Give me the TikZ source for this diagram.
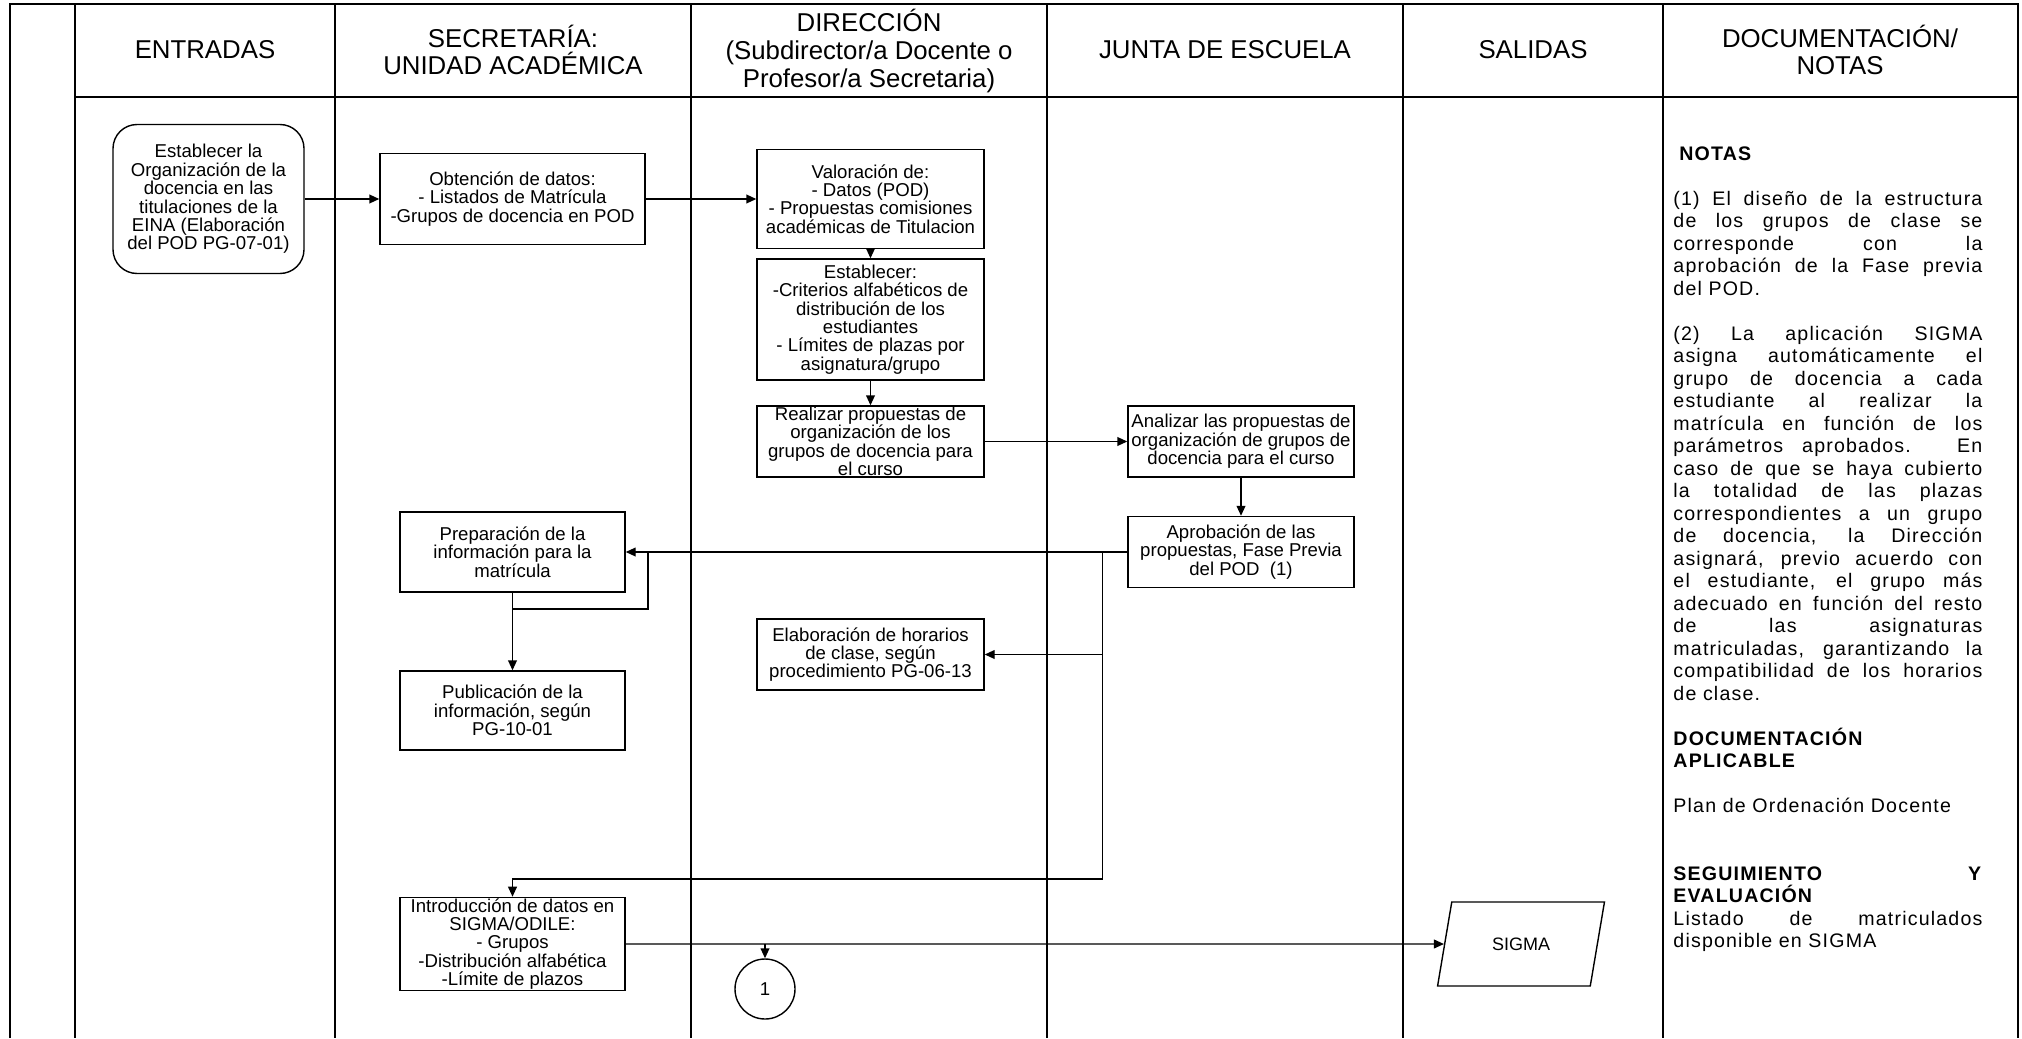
\documentclass[tikz,border=0pt]{standalone}
\usepackage{fontspec}
\setmainfont{Liberation Sans}
\newfontfamily\notesfont[LetterSpace=6]{Liberation Sans}
\usetikzlibrary{arrows.meta,shapes.geometric}

\begin{document}
\begin{tikzpicture}[
  x=0.5pt, y=-0.5pt,
  >={Triangle[length=5pt,width=4.4pt]},
  lane/.style={line width=1pt, draw=black},
  head/.style={align=center, inner sep=0pt,
               font=\fontsize{12.9}{13.9}\selectfont},
  task/.style={draw, line width=0.7pt, align=center, inner sep=0.5pt,
               font=\fontsize{9.3}{9.2}\selectfont},
  start/.style={task, rounded corners=12pt},
  link/.style={circle, draw, line width=0.7pt, minimum size=30pt,
               inner sep=0pt, font=\fontsize{9.3}{9.2}\selectfont},
  data/.style={trapezium, trapezium left angle=65, trapezium right angle=115,
               trapezium stretches=true, draw, line width=0.7pt,
               minimum width=83.5pt, minimum height=42pt, inner sep=0pt,
               font=\fontsize{9}{9.2}\selectfont},
  notes/.style={align=justify, text width=154.5pt, inner sep=0pt,
                font=\notesfont\fontsize{9.8}{11.25}\selectfont},
  flow/.style={->, line width=0.7pt},
  wire/.style={line width=0.7pt},
]
\useasboundingbox (0,0) rectangle (2022,1038);

\draw[lane] (10,1038) -- (10,4) -- (2018,4) -- (2018,1038);
\draw[lane] (75,97) -- (2018,97);
\foreach \xl in {75,335,691,1047,1403,1663}
  \draw[lane] (\xl,4) -- (\xl,1038);

\node[head] (hent) at (205,50) {ENTRADAS};
\node[head] (hsec) at (513,50) {SECRETARÍA:\\UNIDAD ACADÉMICA};
\node[head] (hdir) at (869,51) {DIRECCIÓN\\(Subdirector/a Docente o\\Profesor/a Secretaria)};
\node[head] (hjun) at (1225,50) {JUNTA DE ESCUELA};
\node[head] (hsal) at (1533,50) {SALIDAS};
\node[head] (hdoc) at (1840,50) {DOCUMENTACIÓN/\\NOTAS};

\node[start, minimum width=95.5pt, minimum height=74.5pt] (ini) at (208.5,199)
  {Establecer la\\Organización de la\\docencia en las\\titulaciones de la\\EINA (Elaboración\\del POD PG-07-01)};
\node[task, minimum width=132.5pt, minimum height=45.5pt] (obt) at (512.5,199)
  {Obtención de datos:\\- Listados de Matrícula\\-Grupos de docencia en POD};
\node[task, minimum width=113.5pt, minimum height=49.5pt] (val) at (870.5,199)
  {Valoración de:\\- Datos (POD)\\- Propuestas comisiones\\académicas de Titulacion};
\node[task, minimum width=113.5pt, minimum height=60.5pt] (est) at (870.5,319.5)
  {Establecer:\\-Criterios alfabéticos de\\distribución de los\\estudiantes\\- Límites de plazas por\\asignatura/grupo};
\node[task, minimum width=113.5pt, minimum height=35.5pt] (rea) at (870.5,441.5)
  {Realizar propuestas de\\organización de los\\grupos de docencia para\\el curso};
\node[task, minimum width=113pt, minimum height=35.5pt] (ana) at (1241,441.5)
  {Analizar las propuestas de\\organización de grupos de\\docencia para el curso};
\node[task, minimum width=113pt, minimum height=35.5pt] (apr) at (1241,552)
  {Aprobación de las\\propuestas, Fase Previa\\del POD~~(1)};
\node[task, minimum width=112.5pt, minimum height=40pt] (prep) at (512.5,552)
  {Preparación de la\\información para la\\matrícula};
\node[task, minimum width=112.5pt, minimum height=39.5pt] (pub) at (512.5,710.5)
  {Publicación de la\\información, según\\PG-10-01};
\node[task, minimum width=113.5pt, minimum height=35.5pt] (elab) at (870.5,654.5)
  {Elaboración de horarios\\de clase, según\\procedimiento PG-06-13};
\node[task, minimum width=112.5pt, minimum height=45pt] (intro) at (512.5,944)
  {Introducción de datos en\\SIGMA/ODILE:\\- Grupos\\-Distribución alfabética\\-Límite de plazos};
\node[link] (uno) at (765,989) {1};
\node[data] (sigma) at (1521,944) {SIGMA};

\coordinate (j1) at (648,552);
\coordinate (j2) at (648,609);
\coordinate (t1) at (1102.5,552);
\coordinate (t2) at (1102.5,879);

\draw[flow] (ini.east) -- (obt.west);
\draw[flow] (obt.east) -- (val.west);
\draw[flow] (val) -- (est);
\draw[flow] (est) -- (rea);
\draw[flow] (rea) -- (ana);
\draw[flow] (ana) -- (apr);
\draw[flow] (apr.west) -- (prep.east);
\draw[wire] (j1) -- (j2) -- (prep.south |- j2);
\draw[flow] (prep) -- (pub);
\draw[flow] (t1) -- (t2) -| (intro.north);
\draw[flow] (t1 |- elab.east) -- (elab.east);
\draw[flow] (intro.east) -- (sigma.west);
\draw[flow] (uno.north |- intro.east) -- (uno.north);

\node[notes, anchor=north west] (notas) at (1673,146)
  {\setlength{\parindent}{0pt}%
   \textbf{\hspace*{3pt}NOTAS}\par
   \vspace{\baselineskip}
   (1) El diseño de la estructura\linebreak de los grupos de clase se\linebreak
   corresponde con la\linebreak aprobación de la Fase previa\linebreak del POD.\par
   \vspace{\baselineskip}
   (2) La aplicación SIGMA\linebreak asigna automáticamente el\linebreak
   grupo de docencia a cada\linebreak estudiante al realizar la\linebreak
   matrícula en función de los\linebreak parámetros aprobados. En\linebreak
   caso de que se haya cubierto\linebreak la totalidad de las plazas\linebreak
   correspondientes a un grupo\linebreak de docencia, la Dirección\linebreak
   asignará, previo acuerdo con\linebreak el estudiante, el grupo más\linebreak
   adecuado en función del resto\linebreak de las asignaturas\linebreak
   matriculadas, garantizando la\linebreak compatibilidad de los horarios\linebreak
   de clase.\par
   \vspace{\baselineskip}
   \textbf{DOCUMENTACIÓN}\\\textbf{APLICABLE}\par
   \vspace{\baselineskip}
   Plan de Ordenación Docente\par
   \vspace{2\baselineskip}
   \textbf{SEGUIMIENTO Y}\linebreak\textbf{EVALUACIÓN}\par
   Listado de matriculados\linebreak disponible en SIGMA\par};
\end{tikzpicture}
\end{document}
